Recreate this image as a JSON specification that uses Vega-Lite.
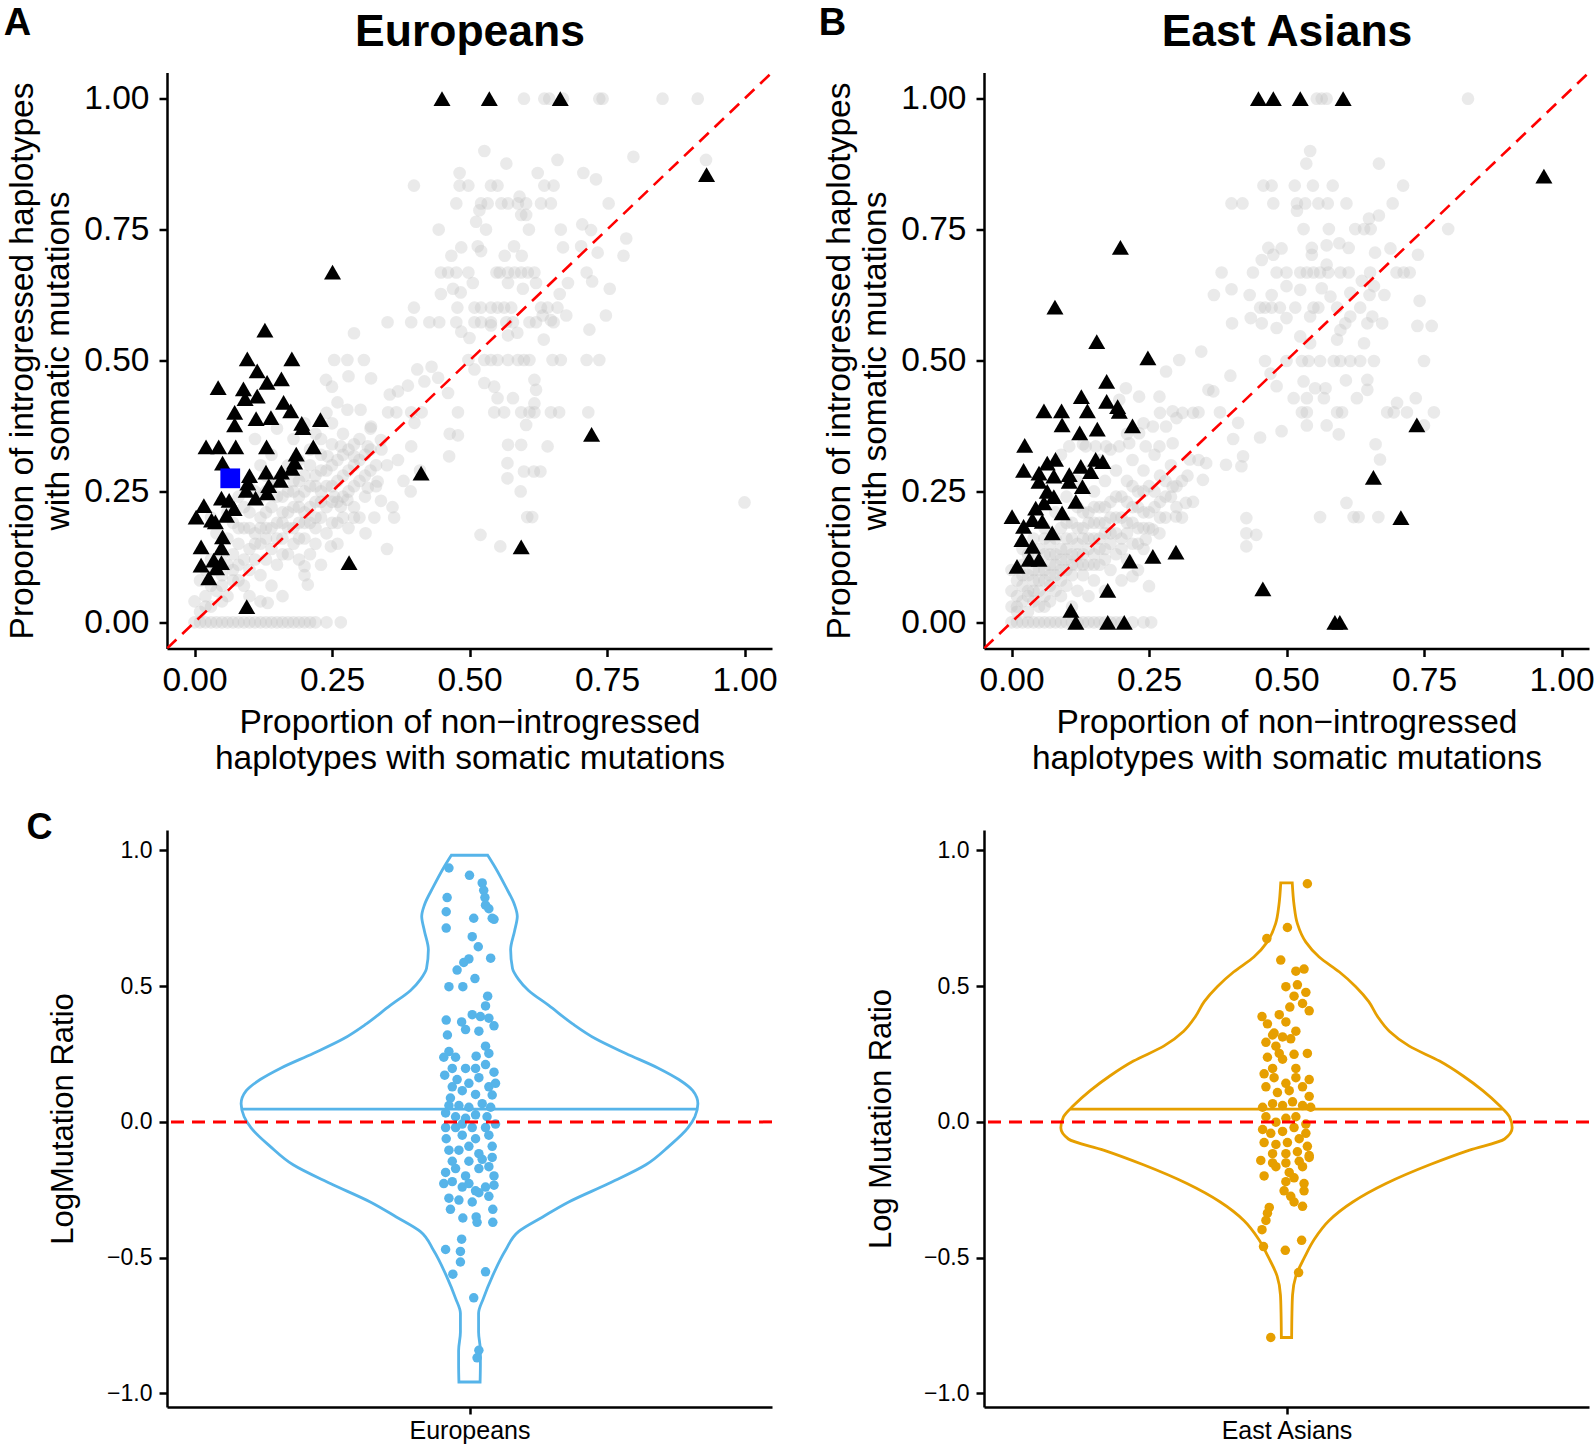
{
"$schema":"https://vega.github.io/schema/vega-lite/v6.json",
"padding":{"left":3,"top":4.5,"right":0,"bottom":0},
"config":{"font":"Liberation Sans","view":{"stroke":null},
"axis":{"grid":false,"domainColor":"black","domainWidth":2.5,"tickColor":"black","tickWidth":2.5,"labelColor":"black","titleColor":"black","titleFontWeight":"normal","labelFont":"Liberation Sans","titleFont":"Liberation Sans","labelFlush":false,"labelOverlap":false},
"title":{"font":"Liberation Sans","fontWeight":"bold","color":"black"}},
"datasets":{
"aGrey":[
{"x":0,"y":0},{"x":0.01,"y":0},{"x":0.02,"y":0},{"x":0.03,"y":0},{"x":0.04,"y":0},{"x":0.05,"y":0},{"x":0.06,"y":0},{"x":0.07,"y":0},{"x":0.08,"y":0},{"x":0.09,"y":0},{"x":0.1,"y":0},{"x":0.11,"y":0},{"x":0.12,"y":0},{"x":0.13,"y":0},{"x":0.14,"y":0},{"x":0.15,"y":0},{"x":0.16,"y":0},{"x":0.17,"y":0},{"x":0.18,"y":0},{"x":0.19,"y":0},{"x":0.2,"y":0},{"x":0.21,"y":0},{"x":0.22,"y":0},{"x":0.24,"y":0},{"x":0.266,"y":0},
{"x":0.599,"y":1},{"x":0.636,"y":1},{"x":0.645,"y":1},{"x":0.67,"y":1},{"x":0.736,"y":1},{"x":0.742,"y":1},{"x":0.851,"y":1},{"x":0.915,"y":1},
{"x":0.527,"y":0.9},{"x":0.567,"y":0.876},{"x":0.66,"y":0.883},{"x":0.798,"y":0.889},{"x":0.93,"y":0.883},
{"x":0.482,"y":0.858},{"x":0.624,"y":0.858},{"x":0.707,"y":0.858},{"x":0.73,"y":0.846},
{"x":0.399,"y":0.834},{"x":0.482,"y":0.834},{"x":0.498,"y":0.834},{"x":0.539,"y":0.834},{"x":0.551,"y":0.834},{"x":0.636,"y":0.834},{"x":0.653,"y":0.834},
{"x":0.476,"y":0.8},{"x":0.521,"y":0.8},{"x":0.533,"y":0.8},{"x":0.558,"y":0.8},{"x":0.57,"y":0.8},{"x":0.588,"y":0.8},{"x":0.603,"y":0.8},{"x":0.63,"y":0.8},{"x":0.648,"y":0.8},{"x":0.753,"y":0.8},
{"x":0.591,"y":0.813},{"x":0.518,"y":0.787},{"x":0.594,"y":0.778},{"x":0.603,"y":0.778},{"x":0.512,"y":0.765},
{"x":0.444,"y":0.75},{"x":0.53,"y":0.75},{"x":0.608,"y":0.75},{"x":0.666,"y":0.75},{"x":0.705,"y":0.76},{"x":0.721,"y":0.749},{"x":0.785,"y":0.733},
{"x":0.485,"y":0.716},{"x":0.515,"y":0.718},{"x":0.521,"y":0.709},{"x":0.581,"y":0.718},{"x":0.67,"y":0.716},{"x":0.703,"y":0.718},
{"x":0.467,"y":0.7},{"x":0.564,"y":0.7},{"x":0.595,"y":0.7},{"x":0.733,"y":0.706},{"x":0.78,"y":0.7},
{"x":0.448,"y":0.668},{"x":0.461,"y":0.668},{"x":0.476,"y":0.668},{"x":0.498,"y":0.668},{"x":0.549,"y":0.668},{"x":0.555,"y":0.668},{"x":0.57,"y":0.668},{"x":0.582,"y":0.668},{"x":0.594,"y":0.668},{"x":0.606,"y":0.668},{"x":0.618,"y":0.668},{"x":0.713,"y":0.668},
{"x":0.506,"y":0.648},{"x":0.57,"y":0.648},{"x":0.621,"y":0.648},{"x":0.679,"y":0.648},{"x":0.723,"y":0.651},
{"x":0.448,"y":0.627},{"x":0.47,"y":0.637},{"x":0.484,"y":0.63},{"x":0.597,"y":0.637},{"x":0.664,"y":0.627},{"x":0.755,"y":0.637},
{"x":0.399,"y":0.601},{"x":0.478,"y":0.601},{"x":0.509,"y":0.601},{"x":0.521,"y":0.601},{"x":0.539,"y":0.601},{"x":0.551,"y":0.601},{"x":0.563,"y":0.601},{"x":0.576,"y":0.601},{"x":0.63,"y":0.601},{"x":0.642,"y":0.601},{"x":0.66,"y":0.601},
{"x":0.676,"y":0.586},{"x":0.748,"y":0.586},{"x":0.633,"y":0.586},{"x":0.648,"y":0.577},
{"x":0.351,"y":0.573},{"x":0.394,"y":0.573},{"x":0.427,"y":0.573},{"x":0.445,"y":0.573},{"x":0.476,"y":0.573},{"x":0.509,"y":0.573},{"x":0.521,"y":0.573},{"x":0.539,"y":0.573},{"x":0.567,"y":0.573},{"x":0.579,"y":0.573},{"x":0.609,"y":0.573},{"x":0.621,"y":0.573},{"x":0.653,"y":0.573},
{"x":0.718,"y":0.559},{"x":0.485,"y":0.555},{"x":0.5,"y":0.543},{"x":0.539,"y":0.567},{"x":0.57,"y":0.548},{"x":0.587,"y":0.553},{"x":0.635,"y":0.54},
{"x":0.498,"y":0.501},{"x":0.527,"y":0.501},{"x":0.539,"y":0.501},{"x":0.551,"y":0.501},{"x":0.57,"y":0.501},{"x":0.588,"y":0.501},{"x":0.599,"y":0.501},{"x":0.609,"y":0.501},{"x":0.651,"y":0.501},{"x":0.666,"y":0.501},{"x":0.713,"y":0.501},{"x":0.736,"y":0.501},
{"x":0.431,"y":0.488},{"x":0.405,"y":0.483},{"x":0.509,"y":0.483},{"x":0.618,"y":0.463},{"x":0.621,"y":0.444},
{"x":0.355,"y":0.435},{"x":0.37,"y":0.441},{"x":0.388,"y":0.452},{"x":0.418,"y":0.46},{"x":0.443,"y":0.467},{"x":0.461,"y":0.438},
{"x":0.527,"y":0.457},{"x":0.545,"y":0.45},{"x":0.551,"y":0.428},{"x":0.579,"y":0.428},{"x":0.618,"y":0.418},
{"x":0.352,"y":0.401},{"x":0.367,"y":0.401},{"x":0.394,"y":0.401},{"x":0.413,"y":0.401},{"x":0.479,"y":0.401},{"x":0.545,"y":0.401},{"x":0.563,"y":0.401},{"x":0.594,"y":0.401},{"x":0.609,"y":0.401},{"x":0.618,"y":0.401},{"x":0.648,"y":0.401},{"x":0.663,"y":0.401},{"x":0.716,"y":0.401},
{"x":0.4,"y":0.381},{"x":0.464,"y":0.36},{"x":0.479,"y":0.357},{"x":0.603,"y":0.377},
{"x":0.394,"y":0.336},{"x":0.57,"y":0.339},{"x":0.594,"y":0.339},{"x":0.642,"y":0.336},
{"x":0.29,"y":0.552},{"x":0.254,"y":0.501},{"x":0.278,"y":0.501},{"x":0.308,"y":0.501},{"x":0.239,"y":0.463},{"x":0.321,"y":0.466},
{"x":0.278,"y":0.406},{"x":0.302,"y":0.406},{"x":0.321,"y":0.374},{"x":0.339,"y":0.348},{"x":0.315,"y":0.336},{"x":0.29,"y":0.317},{"x":0.266,"y":0.336},{"x":0.242,"y":0.317},
{"x":0.333,"y":0.269},{"x":0.315,"y":0.257},{"x":0.339,"y":0.232},{"x":0.363,"y":0.2},{"x":0.327,"y":0.2},{"x":0.29,"y":0.2},{"x":0.266,"y":0.221},{"x":0.254,"y":0.24},{"x":0.278,"y":0.234},
{"x":0.311,"y":0.17},{"x":0.248,"y":0.145},{"x":0.206,"y":0.072},{"x":0.133,"y":0.037},{"x":0.2,"y":0.107},
{"x":0.569,"y":0.304},{"x":0.569,"y":0.275},{"x":0.599,"y":0.288},{"x":0.617,"y":0.288},{"x":0.629,"y":0.288},{"x":0.593,"y":0.25},{"x":0.605,"y":0.201},{"x":0.614,"y":0.201},{"x":0.52,"y":0.167},{"x":0.556,"y":0.145},{"x":0.463,"y":0.317},{"x":0.393,"y":0.25},
{"x":1.0,"y":0.229},
{"x":0.0,"y":0.04},{"x":0.01,"y":0.02},{"x":0.02,"y":0.05},{"x":0.03,"y":0.03},{"x":0.01,"y":0.08},{"x":0.02,"y":0.1},{"x":0.04,"y":0.06},{"x":0.05,"y":0.09},{"x":0.03,"y":0.12},{"x":0.06,"y":0.05},{"x":0.07,"y":0.08},{"x":0.05,"y":0.13},{"x":0.08,"y":0.11},{"x":0.06,"y":0.16},{"x":0.09,"y":0.07},{"x":0.1,"y":0.1},{"x":0.08,"y":0.15},{"x":0.07,"y":0.19},{"x":0.1,"y":0.14},{"x":0.11,"y":0.12},{"x":0.12,"y":0.09},{"x":0.09,"y":0.18},{"x":0.11,"y":0.17},{"x":0.12,"y":0.15},{"x":0.13,"y":0.12},{"x":0.1,"y":0.21},{"x":0.12,"y":0.2},{"x":0.13,"y":0.18},{"x":0.14,"y":0.14},{"x":0.15,"y":0.11},{"x":0.14,"y":0.22},{"x":0.15,"y":0.19},{"x":0.16,"y":0.16},{"x":0.17,"y":0.13},{"x":0.13,"y":0.25},{"x":0.15,"y":0.24},{"x":0.16,"y":0.21},{"x":0.17,"y":0.18},{"x":0.18,"y":0.15},{"x":0.19,"y":0.12},{"x":0.17,"y":0.25},{"x":0.18,"y":0.22},{"x":0.19,"y":0.19},{"x":0.2,"y":0.16},{"x":0.21,"y":0.13},{"x":0.16,"y":0.28},{"x":0.18,"y":0.27},{"x":0.19,"y":0.24},{"x":0.2,"y":0.21},{"x":0.21,"y":0.19},{"x":0.22,"y":0.15},{"x":0.2,"y":0.28},{"x":0.21,"y":0.26},{"x":0.22,"y":0.23},{"x":0.23,"y":0.2},{"x":0.24,"y":0.17},{"x":0.19,"y":0.31},{"x":0.21,"y":0.3},{"x":0.22,"y":0.28},{"x":0.23,"y":0.25},{"x":0.24,"y":0.22},{"x":0.25,"y":0.19},{"x":0.23,"y":0.32},{"x":0.24,"y":0.29},{"x":0.25,"y":0.26},{"x":0.26,"y":0.23},{"x":0.27,"y":0.2},{"x":0.25,"y":0.34},{"x":0.26,"y":0.31},{"x":0.27,"y":0.28},{"x":0.28,"y":0.25},{"x":0.29,"y":0.22},{"x":0.27,"y":0.36},{"x":0.28,"y":0.33},{"x":0.29,"y":0.3},{"x":0.3,"y":0.27},{"x":0.31,"y":0.24},{"x":0.3,"y":0.35},{"x":0.31,"y":0.32},{"x":0.32,"y":0.29},{"x":0.33,"y":0.26},{"x":0.32,"y":0.37},{"x":0.34,"y":0.33},{"x":0.35,"y":0.3},{"x":0.14,"y":0.07},{"x":0.16,"y":0.05},{"x":0.12,"y":0.04},{"x":0.2,"y":0.09},{"x":0.23,"y":0.11},{"x":0.26,"y":0.15},{"x":0.28,"y":0.18},{"x":0.3,"y":0.2},{"x":0.04,"y":0.17},{"x":0.06,"y":0.21},{"x":0.08,"y":0.24},{"x":0.1,"y":0.27},{"x":0.12,"y":0.3},{"x":0.14,"y":0.32},{"x":0.03,"y":0.2},{"x":0.11,"y":0.35},{"x":0.15,"y":0.37},{"x":0.18,"y":0.35},{"x":0.2,"y":0.38},{"x":0.22,"y":0.36},{"x":0.24,"y":0.4},{"x":0.26,"y":0.42},
{"x":0.36,"y":0.22},{"x":0.38,"y":0.27},{"x":0.35,"y":0.14},{"x":0.41,"y":0.29},{"x":0.37,"y":0.31},{"x":0.28,"y":0.47},{"x":0.25,"y":0.45},
{"x":0.02,"y":0.03},{"x":0.03,"y":0.07},{"x":0.05,"y":0.04},{"x":0.06,"y":0.11},{"x":0.07,"y":0.13},{"x":0.08,"y":0.08},{"x":0.09,"y":0.12},{"x":0.1,"y":0.05},{"x":0.11,"y":0.15},{"x":0.12,"y":0.18},{"x":0.13,"y":0.16},{"x":0.13,"y":0.21},{"x":0.14,"y":0.18},{"x":0.15,"y":0.16},{"x":0.16,"y":0.19},{"x":0.16,"y":0.24},{"x":0.17,"y":0.21},{"x":0.18,"y":0.18},{"x":0.18,"y":0.25},{"x":0.19,"y":0.22},{"x":0.2,"y":0.19},{"x":0.2,"y":0.25},{"x":0.21,"y":0.22},{"x":0.22,"y":0.2},{"x":0.22,"y":0.26},{"x":0.23,"y":0.23},{"x":0.23,"y":0.29},{"x":0.24,"y":0.26},{"x":0.25,"y":0.23},{"x":0.25,"y":0.3},{"x":0.26,"y":0.27},{"x":0.27,"y":0.24},{"x":0.27,"y":0.32},{"x":0.28,"y":0.29},{"x":0.29,"y":0.26},{"x":0.29,"y":0.34},{"x":0.3,"y":0.31},{"x":0.31,"y":0.28},{"x":0.32,"y":0.33},{"x":0.33,"y":0.3},{"x":0.15,"y":0.27},{"x":0.17,"y":0.3},{"x":0.19,"y":0.27},{"x":0.21,"y":0.33},{"x":0.23,"y":0.35},{"x":0.25,"y":0.38},{"x":0.09,"y":0.22},{"x":0.11,"y":0.25},{"x":0.14,"y":0.26},{"x":0.07,"y":0.1},{"x":0.1,"y":0.18},{"x":0.16,"y":0.13},{"x":0.19,"y":0.16},{"x":0.22,"y":0.18},{"x":0.26,"y":0.19},{"x":0.04,"y":0.1},{"x":0.05,"y":0.07},{"x":0.08,"y":0.18},{"x":0.12,"y":0.24},{"x":0.13,"y":0.28}
],
"aTri":[
{"x":0.45,"y":1},{"x":0.536,"y":1},{"x":0.665,"y":1},{"x":0.931,"y":0.855},{"x":0.251,"y":0.669},{"x":0.128,"y":0.558},{"x":0.096,"y":0.503},{"x":0.177,"y":0.503},{"x":0.043,"y":0.448},{"x":0.114,"y":0.48},{"x":0.132,"y":0.458},{"x":0.158,"y":0.465},{"x":0.089,"y":0.446},{"x":0.092,"y":0.427},{"x":0.114,"y":0.432},{"x":0.162,"y":0.42},{"x":0.073,"y":0.401},{"x":0.112,"y":0.389},{"x":0.139,"y":0.391},{"x":0.175,"y":0.404},{"x":0.195,"y":0.38},{"x":0.229,"y":0.387},{"x":0.073,"y":0.377},{"x":0.197,"y":0.372},{"x":0.021,"y":0.335},{"x":0.044,"y":0.335},{"x":0.075,"y":0.335},{"x":0.131,"y":0.335},{"x":0.216,"y":0.335},{"x":0.185,"y":0.321},{"x":0.182,"y":0.306},{"x":0.051,"y":0.304},{"x":0.177,"y":0.294},{"x":0.13,"y":0.287},{"x":0.1,"y":0.28},{"x":0.158,"y":0.287},{"x":0.097,"y":0.266},{"x":0.156,"y":0.271},{"x":0.135,"y":0.261},{"x":0.094,"y":0.252},{"x":0.132,"y":0.247},{"x":0.111,"y":0.237},{"x":0.049,"y":0.237},{"x":0.063,"y":0.233},{"x":0.017,"y":0.223},{"x":0.072,"y":0.217},{"x":0.003,"y":0.201},{"x":0.031,"y":0.195},{"x":0.058,"y":0.204},{"x":0.038,"y":0.192},{"x":0.051,"y":0.163},{"x":0.012,"y":0.144},{"x":0.049,"y":0.142},{"x":0.035,"y":0.119},{"x":0.012,"y":0.109},{"x":0.049,"y":0.114},{"x":0.026,"y":0.085},{"x":0.04,"y":0.104},{"x":0.095,"y":0.03},{"x":0.281,"y":0.114},{"x":0.412,"y":0.285},{"x":0.722,"y":0.359},{"x":0.594,"y":0.144}
],
"aSq":[{"x":0.065,"y":0.275}],
"bGrey":[
{"x":0,"y":0},{"x":0.01,"y":0},{"x":0.02,"y":0},{"x":0.03,"y":0},{"x":0.04,"y":0},{"x":0.05,"y":0},{"x":0.06,"y":0},{"x":0.07,"y":0},{"x":0.08,"y":0},{"x":0.09,"y":0},{"x":0.1,"y":0},{"x":0.11,"y":0},{"x":0.12,"y":0},{"x":0.13,"y":0},{"x":0.14,"y":0},{"x":0.15,"y":0},{"x":0.16,"y":0},{"x":0.17,"y":0},{"x":0.18,"y":0},{"x":0.19,"y":0},{"x":0.2,"y":0},{"x":0.22,"y":0},{"x":0.24,"y":0},{"x":0.254,"y":0},
{"x":0.555,"y":1},{"x":0.564,"y":1},{"x":0.573,"y":1},{"x":0.83,"y":1},
{"x":0.543,"y":0.9},{"x":0.536,"y":0.876},{"x":0.668,"y":0.876},
{"x":0.458,"y":0.834},{"x":0.473,"y":0.834},{"x":0.515,"y":0.834},{"x":0.548,"y":0.834},{"x":0.584,"y":0.834},{"x":0.712,"y":0.834},
{"x":0.4,"y":0.8},{"x":0.42,"y":0.8},{"x":0.476,"y":0.8},{"x":0.519,"y":0.8},{"x":0.534,"y":0.8},{"x":0.558,"y":0.8},{"x":0.575,"y":0.8},{"x":0.609,"y":0.8},{"x":0.693,"y":0.8},
{"x":0.519,"y":0.786},{"x":0.65,"y":0.771},{"x":0.668,"y":0.777},
{"x":0.531,"y":0.751},{"x":0.577,"y":0.751},{"x":0.625,"y":0.751},{"x":0.641,"y":0.751},{"x":0.653,"y":0.751},{"x":0.794,"y":0.751},
{"x":0.573,"y":0.72},{"x":0.596,"y":0.724},{"x":0.613,"y":0.715},{"x":0.467,"y":0.715},{"x":0.491,"y":0.714},{"x":0.546,"y":0.715},{"x":0.661,"y":0.706},{"x":0.689,"y":0.714},{"x":0.739,"y":0.702},{"x":0.455,"y":0.692},{"x":0.476,"y":0.702},{"x":0.546,"y":0.702},{"x":0.573,"y":0.683},
{"x":0.382,"y":0.668},{"x":0.439,"y":0.668},{"x":0.482,"y":0.668},{"x":0.5,"y":0.668},{"x":0.525,"y":0.668},{"x":0.537,"y":0.668},{"x":0.549,"y":0.668},{"x":0.561,"y":0.668},{"x":0.576,"y":0.668},{"x":0.598,"y":0.668},{"x":0.613,"y":0.668},{"x":0.652,"y":0.668},{"x":0.7,"y":0.668},{"x":0.713,"y":0.668},{"x":0.724,"y":0.668},
{"x":0.4,"y":0.636},{"x":0.433,"y":0.625},{"x":0.473,"y":0.625},{"x":0.5,"y":0.642},{"x":0.525,"y":0.635},{"x":0.564,"y":0.638},{"x":0.58,"y":0.622},{"x":0.616,"y":0.629},{"x":0.637,"y":0.652},{"x":0.651,"y":0.625},{"x":0.659,"y":0.642},{"x":0.678,"y":0.625},{"x":0.742,"y":0.614},{"x":0.368,"y":0.625},
{"x":0.452,"y":0.601},{"x":0.461,"y":0.601},{"x":0.473,"y":0.601},{"x":0.488,"y":0.601},{"x":0.516,"y":0.601},{"x":0.549,"y":0.601},{"x":0.558,"y":0.601},{"x":0.592,"y":0.601},{"x":0.634,"y":0.601},
{"x":0.435,"y":0.581},{"x":0.455,"y":0.571},{"x":0.482,"y":0.562},{"x":0.5,"y":0.581},{"x":0.543,"y":0.584},{"x":0.607,"y":0.571},{"x":0.616,"y":0.584},{"x":0.647,"y":0.571},{"x":0.656,"y":0.584},{"x":0.674,"y":0.571},{"x":0.738,"y":0.566},{"x":0.764,"y":0.566},{"x":0.401,"y":0.571},
{"x":0.525,"y":0.546},{"x":0.543,"y":0.533},{"x":0.592,"y":0.54},{"x":0.641,"y":0.533},{"x":0.598,"y":0.558},
{"x":0.461,"y":0.499},{"x":0.5,"y":0.499},{"x":0.528,"y":0.499},{"x":0.54,"y":0.499},{"x":0.561,"y":0.499},{"x":0.586,"y":0.499},{"x":0.598,"y":0.499},{"x":0.616,"y":0.499},{"x":0.634,"y":0.499},{"x":0.659,"y":0.499},{"x":0.75,"y":0.499},
{"x":0.345,"y":0.517},{"x":0.398,"y":0.471},{"x":0.471,"y":0.475},{"x":0.531,"y":0.46},{"x":0.608,"y":0.462},{"x":0.647,"y":0.463},
{"x":0.358,"y":0.444},{"x":0.367,"y":0.441},{"x":0.482,"y":0.451},{"x":0.513,"y":0.428},{"x":0.537,"y":0.428},{"x":0.552,"y":0.447},{"x":0.571,"y":0.447},{"x":0.568,"y":0.428},{"x":0.628,"y":0.428},{"x":0.647,"y":0.444},{"x":0.701,"y":0.419},{"x":0.735,"y":0.428},
{"x":0.683,"y":0.401},{"x":0.695,"y":0.401},{"x":0.719,"y":0.401},{"x":0.768,"y":0.401},{"x":0.528,"y":0.401},{"x":0.537,"y":0.401},{"x":0.592,"y":0.401},{"x":0.601,"y":0.401},{"x":0.34,"y":0.401},{"x":0.379,"y":0.401},
{"x":0.412,"y":0.381},{"x":0.491,"y":0.365},{"x":0.537,"y":0.376},{"x":0.573,"y":0.376},{"x":0.595,"y":0.359},{"x":0.75,"y":0.376},{"x":0.403,"y":0.35},{"x":0.452,"y":0.353},{"x":0.662,"y":0.34},
{"x":0.305,"y":0.501},{"x":0.281,"y":0.479},{"x":0.208,"y":0.447},{"x":0.232,"y":0.431},{"x":0.269,"y":0.431},{"x":0.196,"y":0.425},
{"x":0.293,"y":0.403},{"x":0.311,"y":0.4},{"x":0.33,"y":0.4},{"x":0.257,"y":0.374},{"x":0.281,"y":0.374},{"x":0.232,"y":0.361},{"x":0.214,"y":0.342},{"x":0.244,"y":0.336},{"x":0.269,"y":0.336},{"x":0.293,"y":0.342},{"x":0.105,"y":0.336},{"x":0.135,"y":0.336},{"x":0.153,"y":0.336},{"x":0.172,"y":0.336},{"x":0.196,"y":0.336},
{"x":0.324,"y":0.311},{"x":0.354,"y":0.304},{"x":0.39,"y":0.301},{"x":0.421,"y":0.317},{"x":0.418,"y":0.298},{"x":0.348,"y":0.272},{"x":0.293,"y":0.259},{"x":0.317,"y":0.228},{"x":0.299,"y":0.202},{"x":0.269,"y":0.17},{"x":0.244,"y":0.158},{"x":0.257,"y":0.177},{"x":0.22,"y":0.088},{"x":0.25,"y":0.069},
{"x":0.427,"y":0.199},{"x":0.427,"y":0.17},{"x":0.445,"y":0.167},{"x":0.427,"y":0.145},
{"x":0.561,"y":0.201},{"x":0.609,"y":0.228},{"x":0.622,"y":0.201},{"x":0.631,"y":0.201},{"x":0.667,"y":0.201},{"x":0.67,"y":0.311},
{"x":0.0,"y":0.03},{"x":0.0,"y":0.06},{"x":0.0,"y":0.1},{"x":0.01,"y":0.02},{"x":0.01,"y":0.05},{"x":0.01,"y":0.08},{"x":0.02,"y":0.04},{"x":0.02,"y":0.07},{"x":0.02,"y":0.11},{"x":0.03,"y":0.02},{"x":0.03,"y":0.06},{"x":0.03,"y":0.09},{"x":0.04,"y":0.04},{"x":0.04,"y":0.08},{"x":0.04,"y":0.12},{"x":0.05,"y":0.03},{"x":0.05,"y":0.06},{"x":0.05,"y":0.1},{"x":0.06,"y":0.05},{"x":0.06,"y":0.08},{"x":0.06,"y":0.13},{"x":0.07,"y":0.04},{"x":0.07,"y":0.07},{"x":0.07,"y":0.11},{"x":0.07,"y":0.15},{"x":0.08,"y":0.06},{"x":0.08,"y":0.09},{"x":0.08,"y":0.13},{"x":0.09,"y":0.05},{"x":0.09,"y":0.1},{"x":0.09,"y":0.14},{"x":0.09,"y":0.18},{"x":0.1,"y":0.07},{"x":0.1,"y":0.12},{"x":0.1,"y":0.16},{"x":0.11,"y":0.09},{"x":0.11,"y":0.13},{"x":0.11,"y":0.19},{"x":0.12,"y":0.06},{"x":0.12,"y":0.11},{"x":0.12,"y":0.15},{"x":0.12,"y":0.22},{"x":0.13,"y":0.09},{"x":0.13,"y":0.13},{"x":0.13,"y":0.18},{"x":0.14,"y":0.11},{"x":0.14,"y":0.16},{"x":0.14,"y":0.21},{"x":0.15,"y":0.08},{"x":0.15,"y":0.13},{"x":0.15,"y":0.19},{"x":0.15,"y":0.25},{"x":0.16,"y":0.11},{"x":0.16,"y":0.16},{"x":0.16,"y":0.22},{"x":0.17,"y":0.14},{"x":0.17,"y":0.19},{"x":0.17,"y":0.27},{"x":0.18,"y":0.1},{"x":0.18,"y":0.17},{"x":0.18,"y":0.23},{"x":0.19,"y":0.13},{"x":0.19,"y":0.2},{"x":0.19,"y":0.29},{"x":0.2,"y":0.16},{"x":0.2,"y":0.24},{"x":0.21,"y":0.12},{"x":0.21,"y":0.19},{"x":0.21,"y":0.27},{"x":0.22,"y":0.15},{"x":0.22,"y":0.22},{"x":0.22,"y":0.31},{"x":0.23,"y":0.18},{"x":0.23,"y":0.25},{"x":0.24,"y":0.14},{"x":0.24,"y":0.21},{"x":0.24,"y":0.29},{"x":0.25,"y":0.18},{"x":0.25,"y":0.26},{"x":0.26,"y":0.22},{"x":0.26,"y":0.32},{"x":0.27,"y":0.2},{"x":0.27,"y":0.28},{"x":0.28,"y":0.24},{"x":0.29,"y":0.3},{"x":0.3,"y":0.26},{"x":0.31,"y":0.2},{"x":0.32,"y":0.28},{"x":0.33,"y":0.23},{"x":0.34,"y":0.31},{"x":0.06,"y":0.18},{"x":0.08,"y":0.21},{"x":0.1,"y":0.24},{"x":0.12,"y":0.27},{"x":0.14,"y":0.29},{"x":0.16,"y":0.31},{"x":0.04,"y":0.16},{"x":0.11,"y":0.03},{"x":0.14,"y":0.05},{"x":0.17,"y":0.06},{"x":0.2,"y":0.08},{"x":0.23,"y":0.1},{"x":0.13,"y":0.34},{"x":0.18,"y":0.33},{"x":0.21,"y":0.36},{"x":0.24,"y":0.38},{"x":0.27,"y":0.4},{"x":0.3,"y":0.39},{"x":0.09,"y":0.32},
{"x":0.01,"y":0.03},{"x":0.02,"y":0.09},{"x":0.03,"y":0.05},{"x":0.03,"y":0.13},{"x":0.04,"y":0.1},{"x":0.05,"y":0.08},{"x":0.05,"y":0.14},{"x":0.06,"y":0.1},{"x":0.06,"y":0.16},{"x":0.07,"y":0.09},{"x":0.07,"y":0.13},{"x":0.08,"y":0.11},{"x":0.08,"y":0.16},{"x":0.09,"y":0.08},{"x":0.09,"y":0.12},{"x":0.1,"y":0.1},{"x":0.1,"y":0.14},{"x":0.1,"y":0.19},{"x":0.11,"y":0.11},{"x":0.11,"y":0.16},{"x":0.12,"y":0.13},{"x":0.12,"y":0.18},{"x":0.13,"y":0.11},{"x":0.13,"y":0.16},{"x":0.13,"y":0.21},{"x":0.14,"y":0.14},{"x":0.14,"y":0.19},{"x":0.15,"y":0.11},{"x":0.15,"y":0.16},{"x":0.15,"y":0.22},{"x":0.16,"y":0.14},{"x":0.16,"y":0.19},{"x":0.17,"y":0.12},{"x":0.17,"y":0.17},{"x":0.17,"y":0.22},{"x":0.18,"y":0.15},{"x":0.18,"y":0.2},{"x":0.19,"y":0.17},{"x":0.19,"y":0.24},{"x":0.2,"y":0.14},{"x":0.2,"y":0.2},{"x":0.21,"y":0.17},{"x":0.21,"y":0.23},{"x":0.22,"y":0.19},{"x":0.22,"y":0.26},{"x":0.23,"y":0.15},{"x":0.23,"y":0.22},{"x":0.24,"y":0.18},{"x":0.24,"y":0.25},{"x":0.25,"y":0.21},{"x":0.26,"y":0.25},{"x":0.27,"y":0.23},{"x":0.28,"y":0.27},{"x":0.28,"y":0.2},{"x":0.29,"y":0.24},{"x":0.3,"y":0.22},{"x":0.31,"y":0.27},{"x":0.02,"y":0.14},{"x":0.04,"y":0.06},{"x":0.06,"y":0.03}
],
"bTri":[
{"x":0.449,"y":1},{"x":0.476,"y":1},{"x":0.525,"y":1},{"x":0.603,"y":1},{"x":0.968,"y":0.852},{"x":0.737,"y":0.377},
{"x":0.079,"y":0.602},{"x":0.155,"y":0.536},{"x":0.248,"y":0.505},{"x":0.173,"y":0.46},{"x":0.127,"y":0.431},{"x":0.173,"y":0.422},{"x":0.193,"y":0.412},
{"x":0.059,"y":0.404},{"x":0.091,"y":0.404},{"x":0.138,"y":0.404},{"x":0.196,"y":0.403},
{"x":0.092,"y":0.377},{"x":0.124,"y":0.362},{"x":0.156,"y":0.369},{"x":0.22,"y":0.375},{"x":0.024,"y":0.338},
{"x":0.022,"y":0.29},{"x":0.05,"y":0.285},{"x":0.065,"y":0.304},{"x":0.08,"y":0.311},{"x":0.105,"y":0.282},{"x":0.126,"y":0.298},{"x":0.144,"y":0.288},{"x":0.153,"y":0.311},{"x":0.166,"y":0.307},
{"x":0.05,"y":0.269},{"x":0.077,"y":0.279},{"x":0.105,"y":0.269},{"x":0.129,"y":0.259},{"x":0.065,"y":0.25},{"x":0.077,"y":0.24},{"x":0.117,"y":0.231},{"x":0.092,"y":0.209},{"x":0.059,"y":0.228},{"x":0.044,"y":0.218},{"x":0.001,"y":0.202},{"x":0.022,"y":0.183},{"x":0.038,"y":0.196},{"x":0.056,"y":0.193},{"x":0.074,"y":0.171},{"x":0.019,"y":0.158},{"x":0.038,"y":0.145},{"x":0.05,"y":0.12},{"x":0.032,"y":0.12},{"x":0.01,"y":0.107},
{"x":0.215,"y":0.117},{"x":0.257,"y":0.126},{"x":0.299,"y":0.134},{"x":0.175,"y":0.061},{"x":0.108,"y":0.023},{"x":0.117,"y":0},{"x":0.175,"y":0},{"x":0.205,"y":0},{"x":0.457,"y":0.064},{"x":0.588,"y":0},{"x":0.597,"y":0},{"x":0.658,"y":0.277},{"x":0.708,"y":0.2},{"x":0.198,"y":0.716}
],
"diag":[{"d":-0.05},{"d":1.05}],
"eurV":[
{"y":0.982,"lo":-0.06,"hi":0.06},{"y":0.935,"lo":-0.086,"hi":0.086},{"y":0.867,"lo":-0.119,"hi":0.119},{"y":0.799,"lo":-0.149,"hi":0.149},{"y":0.757,"lo":-0.158,"hi":0.158},{"y":0.703,"lo":-0.149,"hi":0.149},{"y":0.634,"lo":-0.136,"hi":0.136},{"y":0.566,"lo":-0.142,"hi":0.142},{"y":0.525,"lo":-0.162,"hi":0.162},{"y":0.484,"lo":-0.195,"hi":0.195},{"y":0.429,"lo":-0.262,"hi":0.262},{"y":0.361,"lo":-0.341,"hi":0.341},{"y":0.306,"lo":-0.417,"hi":0.417},{"y":0.252,"lo":-0.517,"hi":0.517},{"y":0.197,"lo":-0.626,"hi":0.626},{"y":0.156,"lo":-0.692,"hi":0.692},{"y":0.115,"lo":-0.738,"hi":0.738},{"y":0.067,"lo":-0.755,"hi":0.755},{"y":0.019,"lo":-0.745,"hi":0.745},{"y":-0.022,"lo":-0.722,"hi":0.722},{"y":-0.09,"lo":-0.659,"hi":0.659},{"y":-0.158,"lo":-0.583,"hi":0.583},{"y":-0.227,"lo":-0.46,"hi":0.46},{"y":-0.295,"lo":-0.328,"hi":0.328},{"y":-0.35,"lo":-0.242,"hi":0.242},{"y":-0.404,"lo":-0.162,"hi":0.162},{"y":-0.473,"lo":-0.119,"hi":0.119},{"y":-0.568,"lo":-0.076,"hi":0.076},{"y":-0.65,"lo":-0.046,"hi":0.046},{"y":-0.705,"lo":-0.03,"hi":0.03},{"y":-0.774,"lo":-0.03,"hi":0.03},{"y":-0.842,"lo":-0.036,"hi":0.036},{"y":-0.896,"lo":-0.036,"hi":0.036},{"y":-0.958,"lo":-0.035,"hi":0.035}
],
"eurMed":[{"m":0.047,"lo":-0.75,"hi":0.75}],
"easV":[
{"y":0.88,"lo":-0.019,"hi":0.019},{"y":0.799,"lo":-0.025,"hi":0.025},{"y":0.73,"lo":-0.036,"hi":0.036},{"y":0.662,"lo":-0.064,"hi":0.064},{"y":0.607,"lo":-0.108,"hi":0.108},{"y":0.552,"lo":-0.175,"hi":0.175},{"y":0.498,"lo":-0.229,"hi":0.229},{"y":0.443,"lo":-0.272,"hi":0.272},{"y":0.388,"lo":-0.301,"hi":0.301},{"y":0.334,"lo":-0.34,"hi":0.34},{"y":0.279,"lo":-0.406,"hi":0.406},{"y":0.224,"lo":-0.506,"hi":0.506},{"y":0.17,"lo":-0.583,"hi":0.583},{"y":0.115,"lo":-0.649,"hi":0.649},{"y":0.06,"lo":-0.704,"hi":0.704},{"y":0.019,"lo":-0.737,"hi":0.737},{"y":-0.022,"lo":-0.746,"hi":0.746},{"y":-0.063,"lo":-0.721,"hi":0.721},{"y":-0.104,"lo":-0.605,"hi":0.605},{"y":-0.158,"lo":-0.473,"hi":0.473},{"y":-0.227,"lo":-0.329,"hi":0.329},{"y":-0.295,"lo":-0.219,"hi":0.219},{"y":-0.363,"lo":-0.141,"hi":0.141},{"y":-0.432,"lo":-0.092,"hi":0.092},{"y":-0.5,"lo":-0.059,"hi":0.059},{"y":-0.568,"lo":-0.031,"hi":0.031},{"y":-0.637,"lo":-0.02,"hi":0.02},{"y":-0.705,"lo":-0.018,"hi":0.018},{"y":-0.794,"lo":-0.017,"hi":0.017}
],
"easMed":[{"m":0.047,"lo":-0.714,"hi":0.714}],
"zero":[{"z":0}],
"eurPts":[
{"j":-0.068,"r":0.935},{"j":0,"r":0.908},{"j":0.042,"r":0.88},{"j":0.047,"r":0.853},{"j":0.051,"r":0.826},{"j":0.053,"r":0.798},{"j":0.064,"r":0.785},{"j":0.075,"r":0.75},{"j":0.081,"r":0.746},{"j":0.014,"r":0.75},{"j":-0.074,"r":0.826},{"j":-0.077,"r":0.774},{"j":-0.077,"r":0.714},{"j":0.009,"r":0.682},{"j":0.029,"r":0.645},{"j":-0.002,"r":0.6},{"j":-0.019,"r":0.587},{"j":0.07,"r":0.603},{"j":-0.041,"r":0.559},{"j":-0.068,"r":0.498},{"j":-0.022,"r":0.498},{"j":0.018,"r":0.528},{"j":0.06,"r":0.463},{"j":0.053,"r":0.427},{"j":0.009,"r":0.395},{"j":0.036,"r":0.388},{"j":0.064,"r":0.382},{"j":0.081,"r":0.354},{"j":-0.026,"r":0.368},{"j":-0.013,"r":0.34},{"j":0.031,"r":0.334},{"j":-0.077,"r":0.375},{"j":-0.073,"r":0.32},{"j":0.053,"r":0.279},{"j":0.064,"r":0.252},{"j":0.022,"r":0.242},{"j":-0.068,"r":0.259},{"j":-0.085,"r":0.238},{"j":-0.046,"r":0.238},{"j":-0.082,"r":0.172},{"j":-0.057,"r":0.197},{"j":-0.013,"r":0.197},{"j":0.02,"r":0.197},{"j":0.053,"r":0.211},{"j":0.081,"r":0.183},{"j":-0.041,"r":0.156},{"j":-0.002,"r":0.142},{"j":0.031,"r":0.163},{"j":0.064,"r":0.129},{"j":0.086,"r":0.142},{"j":-0.057,"r":0.129},{"j":-0.024,"r":0.115},{"j":-0.063,"r":0.088},{"j":0.02,"r":0.101},{"j":0.075,"r":0.099},{"j":-0.068,"r":0.06},{"j":-0.035,"r":0.06},{"j":-0.002,"r":0.054},{"j":0.042,"r":0.067},{"j":0.07,"r":0.054},{"j":-0.079,"r":0.033},{"j":-0.046,"r":0.019},{"j":-0.013,"r":0.013},{"j":0.02,"r":0.026},{"j":0.058,"r":0.019},{"j":0.086,"r":-0.008},{"j":-0.079,"r":-0.021},{"j":-0.046,"r":-0.021},{"j":-0.024,"r":-0.008},{"j":0.009,"r":-0.021},{"j":0.053,"r":-0.021},{"j":-0.077,"r":-0.062},{"j":-0.024,"r":-0.049},{"j":0.02,"r":-0.062},{"j":0.064,"r":-0.049},{"j":-0.068,"r":-0.104},{"j":-0.035,"r":-0.104},{"j":-0.002,"r":-0.09},{"j":0.031,"r":-0.117},{"j":0.075,"r":-0.09},{"j":-0.057,"r":-0.145},{"j":-0.002,"r":-0.145},{"j":0.042,"r":-0.138},{"j":0.075,"r":-0.131},{"j":-0.079,"r":-0.186},{"j":-0.046,"r":-0.172},{"j":-0.013,"r":-0.199},{"j":0.031,"r":-0.172},{"j":0.064,"r":-0.165},{"j":0.081,"r":-0.199},{"j":-0.085,"r":-0.227},{"j":-0.057,"r":-0.22},{"j":-0.024,"r":-0.24},{"j":-0.002,"r":-0.227},{"j":0.02,"r":-0.254},{"j":0.053,"r":-0.24},{"j":0.081,"r":-0.233},{"j":-0.068,"r":-0.281},{"j":-0.035,"r":-0.288},{"j":0.009,"r":-0.295},{"j":0.031,"r":-0.261},{"j":0.064,"r":-0.274},{"j":-0.063,"r":-0.322},{"j":-0.022,"r":-0.354},{"j":0.022,"r":-0.35},{"j":0.025,"r":-0.37},{"j":0.077,"r":-0.322},{"j":0.077,"r":-0.37},{"j":-0.026,"r":-0.432},{"j":-0.079,"r":-0.47},{"j":-0.03,"r":-0.477},{"j":-0.03,"r":-0.516},{"j":-0.055,"r":-0.561},{"j":0.053,"r":-0.552},{"j":0.014,"r":-0.648},{"j":0.031,"r":-0.841},{"j":0.025,"r":-0.869}
],
"easPts":[
{"j":0.069,"r":0.877},{"j":0.003,"r":0.716},{"j":-0.065,"r":0.675},{"j":-0.019,"r":0.596},{"j":0.031,"r":0.555},{"j":0.058,"r":0.563},{"j":-0.002,"r":0.498},{"j":0.036,"r":0.505},{"j":0.064,"r":0.477},{"j":0.025,"r":0.463},{"j":0.053,"r":0.436},{"j":0.075,"r":0.409},{"j":-0.081,"r":0.388},{"j":-0.024,"r":0.395},{"j":-0.002,"r":0.368},{"j":0.031,"r":0.334},{"j":-0.041,"r":0.327},{"j":-0.068,"r":0.293},{"j":-0.035,"r":0.279},{"j":0.069,"r":0.252},{"j":0.025,"r":0.249},{"j":-0.063,"r":0.238},{"j":-0.013,"r":0.231},{"j":-0.046,"r":0.197},{"j":0.031,"r":0.197},{"j":-0.074,"r":0.177},{"j":-0.041,"r":0.163},{"j":-0.002,"r":0.142},{"j":0.031,"r":0.163},{"j":0.075,"r":0.156},{"j":-0.068,"r":0.129},{"j":-0.03,"r":0.108},{"j":0.009,"r":0.115},{"j":0.053,"r":0.129},{"j":0.075,"r":0.094},{"j":-0.079,"r":0.054},{"j":-0.046,"r":0.067},{"j":-0.013,"r":0.06},{"j":0.02,"r":0.074},{"j":0.053,"r":0.06},{"j":0.08,"r":0.054},{"j":-0.068,"r":0.019},{"j":-0.035,"r":-0.001},{"j":-0.002,"r":0.013},{"j":0.031,"r":0.019},{"j":0.064,"r":-0.008},{"j":-0.079,"r":-0.028},{"j":-0.052,"r":-0.042},{"j":-0.013,"r":-0.035},{"j":0.025,"r":-0.021},{"j":0.064,"r":-0.042},{"j":-0.074,"r":-0.076},{"j":-0.035,"r":-0.083},{"j":0.003,"r":-0.076},{"j":0.042,"r":-0.062},{"j":0.069,"r":-0.09},{"j":-0.046,"r":-0.117},{"j":-0.002,"r":-0.117},{"j":0.036,"r":-0.11},{"j":0.075,"r":-0.124},{"j":-0.085,"r":-0.142},{"j":-0.046,"r":-0.151},{"j":-0.002,"r":-0.151},{"j":0.042,"r":-0.145},{"j":0.075,"r":-0.131},{"j":-0.074,"r":-0.199},{"j":-0.035,"r":-0.165},{"j":0.009,"r":-0.186},{"j":0.053,"r":-0.165},{"j":-0.002,"r":-0.22},{"j":0.025,"r":-0.206},{"j":0.058,"r":-0.227},{"j":-0.008,"r":-0.254},{"j":0.014,"r":-0.274},{"j":0.058,"r":-0.254},{"j":0.025,"r":-0.295},{"j":0.053,"r":-0.311},{"j":-0.057,"r":-0.315},{"j":-0.068,"r":-0.363},{"j":-0.081,"r":-0.397},{"j":-0.076,"r":-0.459},{"j":-0.004,"r":-0.473},{"j":0.05,"r":-0.436},{"j":0.04,"r":-0.555},{"j":-0.052,"r":-0.794},{"j":-0.063,"r":-0.336},{"j":-0.013,"r":0.313},{"j":0.011,"r":0.423},{"j":-0.046,"r":0.32},{"j":-0.024,"r":0.252},{"j":0.014,"r":0.306},{"j":-0.063,"r":0.361}
]
},
"columns":2,
"spacing":{"row":181.5,"column":212},
"bounds":"flush",
"concat":[
{
"width":605,"height":576,
"title":{"text":"A","anchor":"start","frame":"bounds","fontSize":38,"fontWeight":"bold","offset":-63.5,"baseline":"alphabetic","dx":-2},
"resolve":{"axis":{"x":"independent"}},
"layer":[
{"layer":[
{"data":{"name":"aGrey"},"mark":{"type":"circle","size":160,"color":"#BEBEBE","opacity":0.32},
"encoding":{
"x":{"field":"x","type":"quantitative","scale":{"domain":[-0.05,1.05],"nice":false,"zero":false},"axis":{"values":[0,0.25,0.5,0.75,1],"format":".2f","title":["Proportion of non−introgressed","haplotypes with somatic mutations"],"labelFontSize":33.5,"titleFontSize":33.5,"titleLineHeight":36,"tickSize":8,"labelPadding":8,"titlePadding":9}},
"y":{"field":"y","type":"quantitative","scale":{"domain":[-0.05,1.05],"nice":false,"zero":false},"axis":{"values":[0,0.25,0.5,0.75,1],"format":".2f","title":["Proportion of introgressed haplotypes","with somatic mutations"],"labelFontSize":33.5,"titleFontSize":33.5,"titleLineHeight":36,"tickSize":8,"labelPadding":10,"titlePadding":8}}}},
{"data":{"name":"aTri"},"mark":{"type":"point","shape":"triangle-up","filled":true,"color":"black","size":290,"opacity":1},
"encoding":{"x":{"field":"x","type":"quantitative"},"y":{"field":"y","type":"quantitative"}}},
{"data":{"name":"aSq"},"mark":{"type":"square","color":"#0000FF","size":390,"opacity":1},
"encoding":{"x":{"field":"x","type":"quantitative"},"y":{"field":"y","type":"quantitative"}}}
]},
{"data":{"name":"diag"},"mark":{"type":"line","color":"#FF0000","strokeDash":[13,8],"strokeWidth":2.6,"clip":true},
"encoding":{"x":{"field":"d","type":"quantitative","scale":{"domain":[-0.05,1.05],"nice":false,"zero":false},"axis":{"orient":"top","title":"Europeans","labels":false,"ticks":false,"domain":false,"tickSize":0,"labelPadding":0,"titleFontSize":44.5,"titleFontWeight":"bold","titlePadding":18}},
"y":{"field":"d","type":"quantitative"}}}
]
},
{
"width":605,"height":576,
"title":{"text":"B","anchor":"start","frame":"bounds","fontSize":38,"fontWeight":"bold","offset":-63.5,"baseline":"alphabetic","dx":-4},
"resolve":{"axis":{"x":"independent"}},
"layer":[
{"layer":[
{"data":{"name":"bGrey"},"mark":{"type":"circle","size":160,"color":"#BEBEBE","opacity":0.32},
"encoding":{
"x":{"field":"x","type":"quantitative","scale":{"domain":[-0.05,1.05],"nice":false,"zero":false},"axis":{"values":[0,0.25,0.5,0.75,1],"format":".2f","title":["Proportion of non−introgressed","haplotypes with somatic mutations"],"labelFontSize":33.5,"titleFontSize":33.5,"titleLineHeight":36,"tickSize":8,"labelPadding":8,"titlePadding":9}},
"y":{"field":"y","type":"quantitative","scale":{"domain":[-0.05,1.05],"nice":false,"zero":false},"axis":{"values":[0,0.25,0.5,0.75,1],"format":".2f","title":["Proportion of introgressed haplotypes","with somatic mutations"],"labelFontSize":33.5,"titleFontSize":33.5,"titleLineHeight":36,"tickSize":8,"labelPadding":10,"titlePadding":8}}}},
{"data":{"name":"bTri"},"mark":{"type":"point","shape":"triangle-up","filled":true,"color":"black","size":290,"opacity":1},
"encoding":{"x":{"field":"x","type":"quantitative"},"y":{"field":"y","type":"quantitative"}}}
]},
{"data":{"name":"diag"},"mark":{"type":"line","color":"#FF0000","strokeDash":[13,8],"strokeWidth":2.6,"clip":true},
"encoding":{"x":{"field":"d","type":"quantitative","scale":{"domain":[-0.05,1.05],"nice":false,"zero":false},"axis":{"orient":"top","title":"East Asians","labels":false,"ticks":false,"domain":false,"tickSize":0,"labelPadding":0,"titleFontSize":44.5,"titleFontWeight":"bold","titlePadding":18}},
"y":{"field":"d","type":"quantitative"}}}
]
},
{
"width":605,"height":577,
"title":{"text":"C","anchor":"start","frame":"bounds","fontSize":36,"fontWeight":"bold","offset":-45,"baseline":"alphabetic","dx":-21},
"layer":[
{"data":{"name":"eurV"},"mark":{"type":"area","orient":"horizontal","interpolate":"monotone","fillOpacity":0,"stroke":"#56B4E9","strokeWidth":2.8},
"encoding":{
"y":{"field":"y","type":"quantitative","scale":{"domain":[-1.05,1.075],"nice":false,"zero":false},"axis":{"values":[-1,-0.5,0,0.5,1],"format":".1f","title":"LogMutation Ratio","labelFontSize":23,"titleFontSize":31,"tickSize":8,"labelPadding":7,"titlePadding":27}},
"x":{"field":"lo","type":"quantitative","scale":{"domain":[-1,1],"nice":false,"zero":false},"axis":{"values":[0],"labelExpr":"'Europeans'","title":null,"labelFontSize":25,"tickSize":7,"labelPadding":4}},
"x2":{"field":"hi"}}},
{"data":{"name":"eurMed"},"mark":{"type":"rule","color":"#56B4E9","strokeWidth":2.8},
"encoding":{"y":{"field":"m","type":"quantitative"},"x":{"field":"lo","type":"quantitative"},"x2":{"field":"hi"}}},
{"data":{"name":"eurPts"},"mark":{"type":"circle","size":90,"color":"#56B4E9","opacity":1},
"encoding":{"x":{"field":"j","type":"quantitative"},"y":{"field":"r","type":"quantitative"}}},
{"data":{"name":"zero"},"mark":{"type":"rule","color":"#FF0000","strokeDash":[13,8],"strokeWidth":3},
"encoding":{"y":{"field":"z","type":"quantitative"}}}
]
},
{
"width":605,"height":577,
"layer":[
{"data":{"name":"easV"},"mark":{"type":"area","orient":"horizontal","interpolate":"monotone","fillOpacity":0,"stroke":"#E69F00","strokeWidth":2.8},
"encoding":{
"y":{"field":"y","type":"quantitative","scale":{"domain":[-1.05,1.075],"nice":false,"zero":false},"axis":{"values":[-1,-0.5,0,0.5,1],"format":".1f","title":"Log Mutation Ratio","labelFontSize":23,"titleFontSize":31,"tickSize":8,"labelPadding":7,"titlePadding":26}},
"x":{"field":"lo","type":"quantitative","scale":{"domain":[-1,1],"nice":false,"zero":false},"axis":{"values":[0],"labelExpr":"'East Asians'","title":null,"labelFontSize":25,"tickSize":7,"labelPadding":4}},
"x2":{"field":"hi"}}},
{"data":{"name":"easMed"},"mark":{"type":"rule","color":"#E69F00","strokeWidth":2.8},
"encoding":{"y":{"field":"m","type":"quantitative"},"x":{"field":"lo","type":"quantitative"},"x2":{"field":"hi"}}},
{"data":{"name":"easPts"},"mark":{"type":"circle","size":90,"color":"#E69F00","opacity":1},
"encoding":{"x":{"field":"j","type":"quantitative"},"y":{"field":"r","type":"quantitative"}}},
{"data":{"name":"zero"},"mark":{"type":"rule","color":"#FF0000","strokeDash":[13,8],"strokeWidth":3},
"encoding":{"y":{"field":"z","type":"quantitative"}}}
]
}
]
}
